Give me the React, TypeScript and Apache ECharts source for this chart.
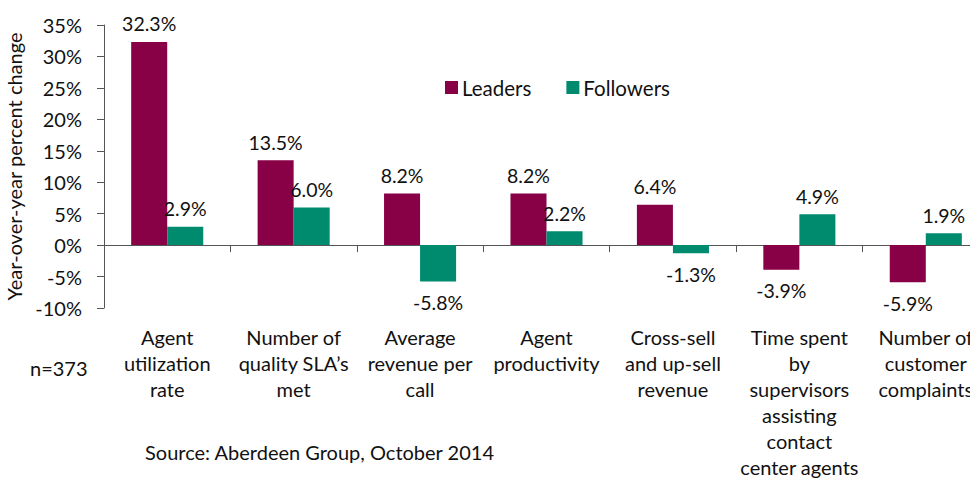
import React, { useEffect, useRef } from "react";
import * as echarts from "echarts";

const categories = [
  "Agent\nutilization\nrate",
  "Number of\nquality SLA’s\nmet",
  "Average\nrevenue per\ncall",
  "Agent\nproductivity",
  "Cross-sell\nand up-sell\nrevenue",
  "Time spent\nby\nsupervisors\nassisting\ncontact\ncenter agents",
  "Number of\ncustomer\ncomplaints",
];
const leaders = [32.3, 13.5, 8.2, 8.2, 6.4, -3.9, -5.9];
const followers = [2.9, 6.0, -5.8, 2.2, -1.3, 4.9, 1.9];
const seriesNames = ["Leaders", "Followers"];
const yTicks = { min: -10, max: 35, interval: 5 };

const FONT = "Lato";
const C_LEAD = "#880046";
const C_FOLL = "#008A6E";

const toData = (vals: number[]) =>
  vals.map((v) => ({
    value: v,
    label: { position: v < 0 ? "bottom" : "top", distance: v < 0 ? 11 : 8 },
  }));

export default function App() {
  const ref = useRef<HTMLDivElement>(null);
  useEffect(() => {
    const chart = echarts.init(ref.current!, null, { renderer: "svg" });
    const labelStyle = {
      show: true,
      distance: 8,
      fontSize: 19.5,
      fontFamily: FONT,
      color: "#111",
      formatter: (p: any) => `${Number(p.value).toFixed(1)}%`,
    };
    chart.setOption({
      animation: false,
      backgroundColor: "#fff",
      textStyle: { fontFamily: FONT },
      grid: {
        left: 104,
        top: 25,
        right: -19,
        bottom: 175,
        containLabel: false,
        outerBoundsMode: "none",
      },
      legend: {
        data: seriesNames,
        left: 440,
        top: 72,
        itemWidth: 13,
        itemHeight: 13,
        itemGap: 35,
        icon: "rect",
        textStyle: { fontSize: 20.5, fontFamily: FONT, color: "#111", padding: [0, 0, 0, -1] },
      },
      xAxis: {
        type: "category",
        data: categories,
        axisLine: { onZero: true, lineStyle: { color: "#555", width: 1 } },
        axisTick: { show: true, length: 7, lineStyle: { color: "#555" } },
        axisLabel: {
          interval: 0,
          margin: 16,
          fontSize: 20,
          lineHeight: 26,
          fontFamily: FONT,
          color: "#111",
        },
      },
      yAxis: {
        type: "value",
        min: yTicks.min,
        max: yTicks.max,
        interval: yTicks.interval,
        name: "Year-over-year percent change",
        nameLocation: "middle",
        nameGap: 76,
        nameTextStyle: { fontSize: 20, fontFamily: FONT, color: "#111" },
        splitLine: { show: false },
        axisLine: { show: true, lineStyle: { color: "#555" } },
        axisTick: { show: true, length: 7, lineStyle: { color: "#555" } },
        axisLabel: {
          fontSize: 20,
          margin: 22,
          fontFamily: FONT,
          color: "#111",
          formatter: (v: number) => `${v}%`,
        },
      },
      series: [
        {
          name: seriesNames[0],
          type: "bar",
          data: toData(leaders),
          itemStyle: { color: C_LEAD },
          barGap: "0%",
          barCategoryGap: "43%",
          label: labelStyle,
        },
        {
          name: seriesNames[1],
          type: "bar",
          data: toData(followers),
          itemStyle: { color: C_FOLL },
          barGap: "0%",
          barCategoryGap: "43%",
          label: labelStyle,
        },
      ],
      graphic: [
        {
          type: "text",
          left: 30,
          top: 358,
          style: { text: "n=373", fontSize: 20, fontFamily: FONT, fill: "#111" },
        },
        {
          type: "text",
          left: 145,
          top: 442,
          style: {
            text: "Source: Aberdeen Group, October 2014",
            fontSize: 20,
            fontFamily: FONT,
            fill: "#111",
          },
        },
      ],
    });
    return () => chart.dispose();
  }, []);
  return (
    <div
      ref={ref}
      style={{ position: "fixed", left: 0, top: 0, width: 970, height: 483 }}
    />
  );
}
